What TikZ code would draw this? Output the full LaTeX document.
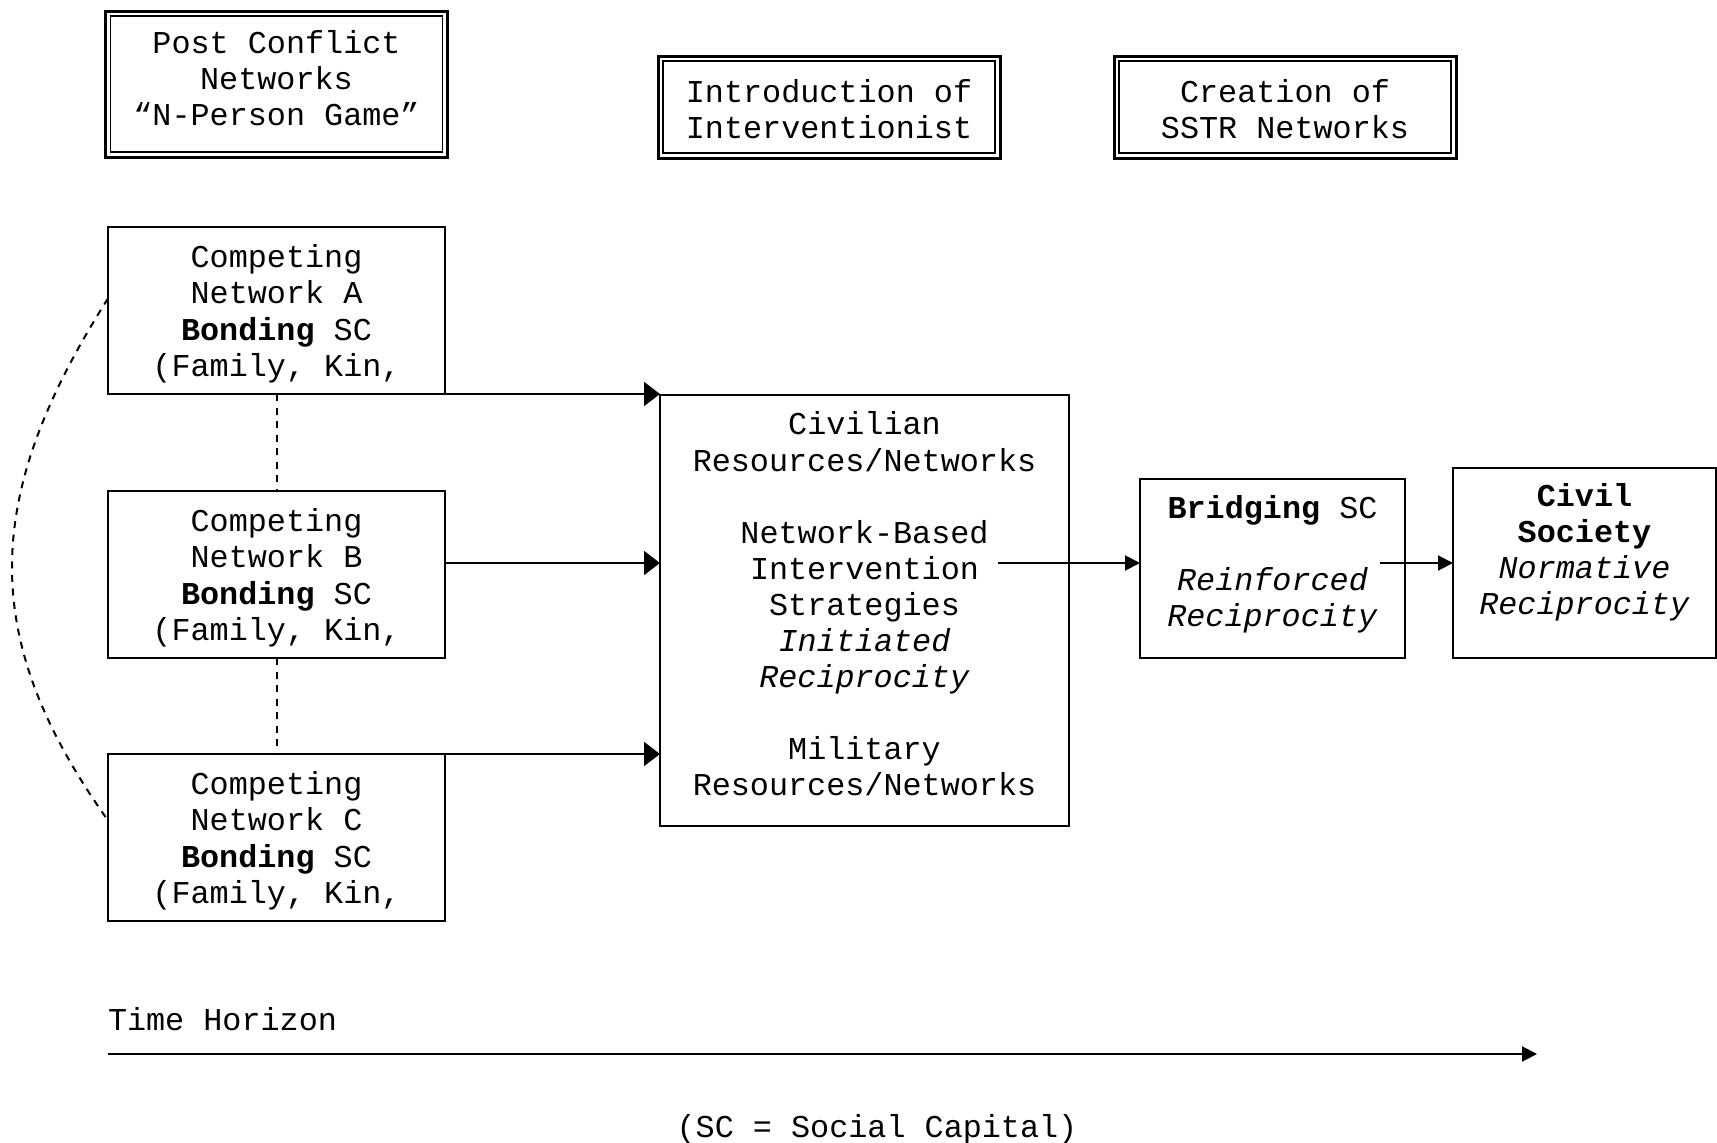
\documentclass[tikz,border=0pt]{standalone}
\usepackage{fontspec}
\setmainfont{Liberation Mono}
\usetikzlibrary{positioning,arrows.meta}
% pad the first or last line of a node text, to move the text down or up
\newcommand{\padtop}[2]{\setbox0\hbox{#1}\rule{0pt}{\dimexpr\ht0+#2\relax}#1}
\newcommand{\padbot}[2]{\setbox0\hbox{#1}#1\rule[-\dimexpr\dp0+#2\relax]{0pt}{0pt}}

\begin{document}
\begin{tikzpicture}[
x=1pt, y=-1pt,
every node/.style={font=\fontsize{31.8}{36.1}\selectfont, align=center, inner sep=0pt, outer sep=0pt},
framednode/.style={rectangle, draw=black, line width=3pt, minimum width=342pt},
squarednode/.style={rectangle, draw=black, line width=2pt},
netnode/.style={squarednode, minimum width=337pt, minimum height=167pt},
bigtip/.style={-{Triangle[length=16pt,width=24pt]}, line width=2pt},
smalltip/.style={-{Triangle[length=15pt,width=15pt]}, line width=2pt},
linkline/.style={line width=2pt, dash pattern=on 7pt off 6.5pt},
]
\useasboundingbox (0,0) rectangle (1717,1143);

%Nodes
\node[framednode, minimum height=146pt] (post) at (276.5,84) {Post Conflict\\Networks\\\padbot{“N-Person Game”}{11pt}};
\node[framednode, minimum height=102pt] (intro) at (829,107) {\padtop{Introduction of}{4.4pt}\\Interventionist};
\node[framednode, minimum height=102pt] (sstr) at (1285,107) {\padtop{Creation of}{4.4pt}\\SSTR Networks};

\node[netnode]      (netA) at (276.5,310.5)    {\padtop{Competing}{6.6pt}\\Network A\\\textbf{Bonding} SC\\(Family, Kin,};
\node[netnode]      (netB) [below=97pt of netA] {\padtop{Competing}{6.6pt}\\Network B\\\textbf{Bonding} SC\\(Family, Kin,};
\node[netnode]      (netC) [below=96pt of netB] {\padtop{Competing}{6.6pt}\\Network C\\\textbf{Bonding} SC\\(Family, Kin,};

\node[squarednode, minimum width=409pt, minimum height=431pt] (central) at (864.5,610.5) {Civilian\\Resources/Networks\\[36pt]Network-Based\\Intervention\\Strategies\\\textit{Initiated}\\\textit{Reciprocity}\\[36pt]Military\\\padbot{Resources/Networks}{13pt}};
\node[squarednode, minimum width=265pt, minimum height=179pt] (bridge) at (1272.5,568.5) {\textbf{Bridging} SC\\[36pt]\textit{Reinforced}\\\padbot{\textit{Reciprocity}}{9pt}};
\node[squarednode, minimum width=263pt, minimum height=190pt] (civil) at (1584.5,563) {\textbf{Civil}\\\textbf{Society}\\\textit{Normative}\\\padbot{\textit{Reciprocity}}{22pt}};

\node[anchor=west] (time)   at (108,1019) {Time Horizon};
\node              (legend) at (877,1129) {(SC = Social Capital)};

\coordinate (flow)      at (0,563);
\coordinate (midout)    at (997.5,563);
\coordinate (bridgeout) at (1380,563);
\coordinate (tstart)    at (108,1054);
\coordinate (tend)      at (1537,1054);

%Lines
\foreach \boxname in {post,intro,sstr}
  \draw[line width=1.5pt] ([xshift=5pt,yshift=-5pt]\boxname.north west) rectangle ([xshift=-5pt,yshift=5pt]\boxname.south east);

\draw[bigtip] (netA.south east) -- (netA.south east -| central.west);
\draw[bigtip] (netB.east |- flow) -- (central.west |- flow);
\draw[bigtip] (netC.north east) -- (netC.north east -| central.west);
\draw[smalltip] (midout) -- (bridge.west |- midout);
\draw[smalltip] (bridgeout) -- (civil.west |- bridgeout);
\draw[smalltip] (tstart) -- (tend);

\draw[linkline] (netA.south) -- (netB.north);
\draw[linkline] (netB.south) -- (netC.north);
\draw[linkline] ([yshift=12pt]netA.west) .. controls (-20,500) and (-20,640) .. ([yshift=17pt]netC.west);
\end{tikzpicture}
\end{document}
